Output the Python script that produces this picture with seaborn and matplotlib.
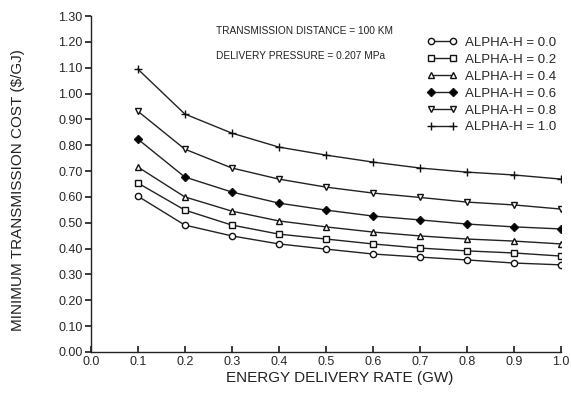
import numpy as np
import pandas as pd
import matplotlib
matplotlib.use("Agg")
import matplotlib.pyplot as plt
import seaborn as sns
from matplotlib.ticker import FormatStrFormatter

rate = [0.1, 0.2, 0.3, 0.4, 0.5, 0.6, 0.7, 0.8, 0.9, 1.0]
alpha_labels = ["ALPHA-H = 0.0", "ALPHA-H = 0.2", "ALPHA-H = 0.4",
                "ALPHA-H = 0.6", "ALPHA-H = 0.8", "ALPHA-H = 1.0"]
cost_a00 = [0.603, 0.491, 0.449, 0.418, 0.398, 0.379, 0.367, 0.356, 0.344, 0.337]
cost_a02 = [0.654, 0.549, 0.491, 0.456, 0.437, 0.418, 0.402, 0.391, 0.383, 0.371]
cost_a04 = [0.716, 0.600, 0.545, 0.507, 0.484, 0.464, 0.449, 0.437, 0.429, 0.418]
cost_a06 = [0.824, 0.677, 0.619, 0.576, 0.549, 0.526, 0.511, 0.495, 0.484, 0.476]
cost_a08 = [0.932, 0.785, 0.712, 0.669, 0.638, 0.615, 0.598, 0.580, 0.569, 0.553]
cost_a10 = [1.095, 0.921, 0.847, 0.793, 0.762, 0.735, 0.712, 0.696, 0.685, 0.669]
series = [cost_a00, cost_a02, cost_a04, cost_a06, cost_a08, cost_a10]
x_ticks = [0.0, 0.1, 0.2, 0.3, 0.4, 0.5, 0.6, 0.7, 0.8, 0.9, 1.0]
y_ticks = [0.00, 0.10, 0.20, 0.30, 0.40, 0.50, 0.60, 0.70, 0.80, 0.90, 1.00, 1.10, 1.20, 1.30]

rows = []
for lab, vals in zip(alpha_labels, series):
    for r, v in zip(rate, vals):
        rows.append({"rate": r, "cost": v, "alpha": lab})
df = pd.DataFrame(rows)

sns.set_theme(style="ticks")
plt.rcParams["font.family"] = ["Liberation Sans", "DejaVu Sans"]

fig = plt.figure(figsize=(5.71, 4.13), dpi=100)
ax = fig.add_axes([0.159, 0.148, 0.823, 0.813])

marker_map = dict(zip(alpha_labels, ["o", "s", "^", "D", "v", "+"]))
face_map = dict(zip(alpha_labels, ["white", "white", "white", "black", "white", "black"]))
size_map = dict(zip(alpha_labels, [4.5, 4.5, 4.5, 3.8, 4.5, 6]))

for lab in alpha_labels:
    sub = df[df["alpha"] == lab]
    sns.lineplot(data=sub, x="rate", y="cost", ax=ax, color="#222222", lw=1.0,
                 marker=marker_map[lab], markersize=size_map[lab],
                 markerfacecolor=face_map[lab], markeredgecolor="#111111",
                 markeredgewidth=1.0, label=lab, legend=False)

ax.set_xlim(0, 1.0)
ax.set_ylim(0, 1.30)
ax.set_xticks(x_ticks)
ax.set_yticks(y_ticks)
ax.xaxis.set_major_formatter(FormatStrFormatter("%.1f"))
ax.yaxis.set_major_formatter(FormatStrFormatter("%.2f"))
ax.tick_params(axis="x", direction="in", length=4, labelsize=9, pad=3, color="#222222")
ax.tick_params(axis="y", direction="out", length=4, labelsize=9, pad=2, color="#222222")
for s in ["top", "right"]:
    ax.spines[s].set_visible(False)
for s in ["left", "bottom"]:
    ax.spines[s].set_color("#222222")
    ax.spines[s].set_linewidth(1.0)

ax.set_xlabel("ENERGY DELIVERY RATE (GW)", fontsize=11, color="#222222")
ax.set_ylabel("MINIMUM TRANSMISSION COST ($/GJ)", fontsize=11, color="#222222")
ax.xaxis.set_label_coords(0.53, -0.058)
ax.yaxis.set_label_coords(-0.140, 0.482)

ax.text(0.266, 1.242, "TRANSMISSION DISTANCE = 100 KM", fontsize=7.3, va="center", color="#222222")
ax.text(0.266, 1.145, "DELIVERY PRESSURE = 0.207 MPa", fontsize=7.3, va="center", color="#222222")

handles, labels = ax.get_legend_handles_labels()
leg = fig.legend(handles, labels, loc="upper left", bbox_to_anchor=(0.736, 0.928),
                 frameon=False, fontsize=9.5, numpoints=2, handlelength=2.3,
                 handletextpad=0.6, labelspacing=0.36, borderpad=0)

fig.savefig("out.png", dpi=100)
